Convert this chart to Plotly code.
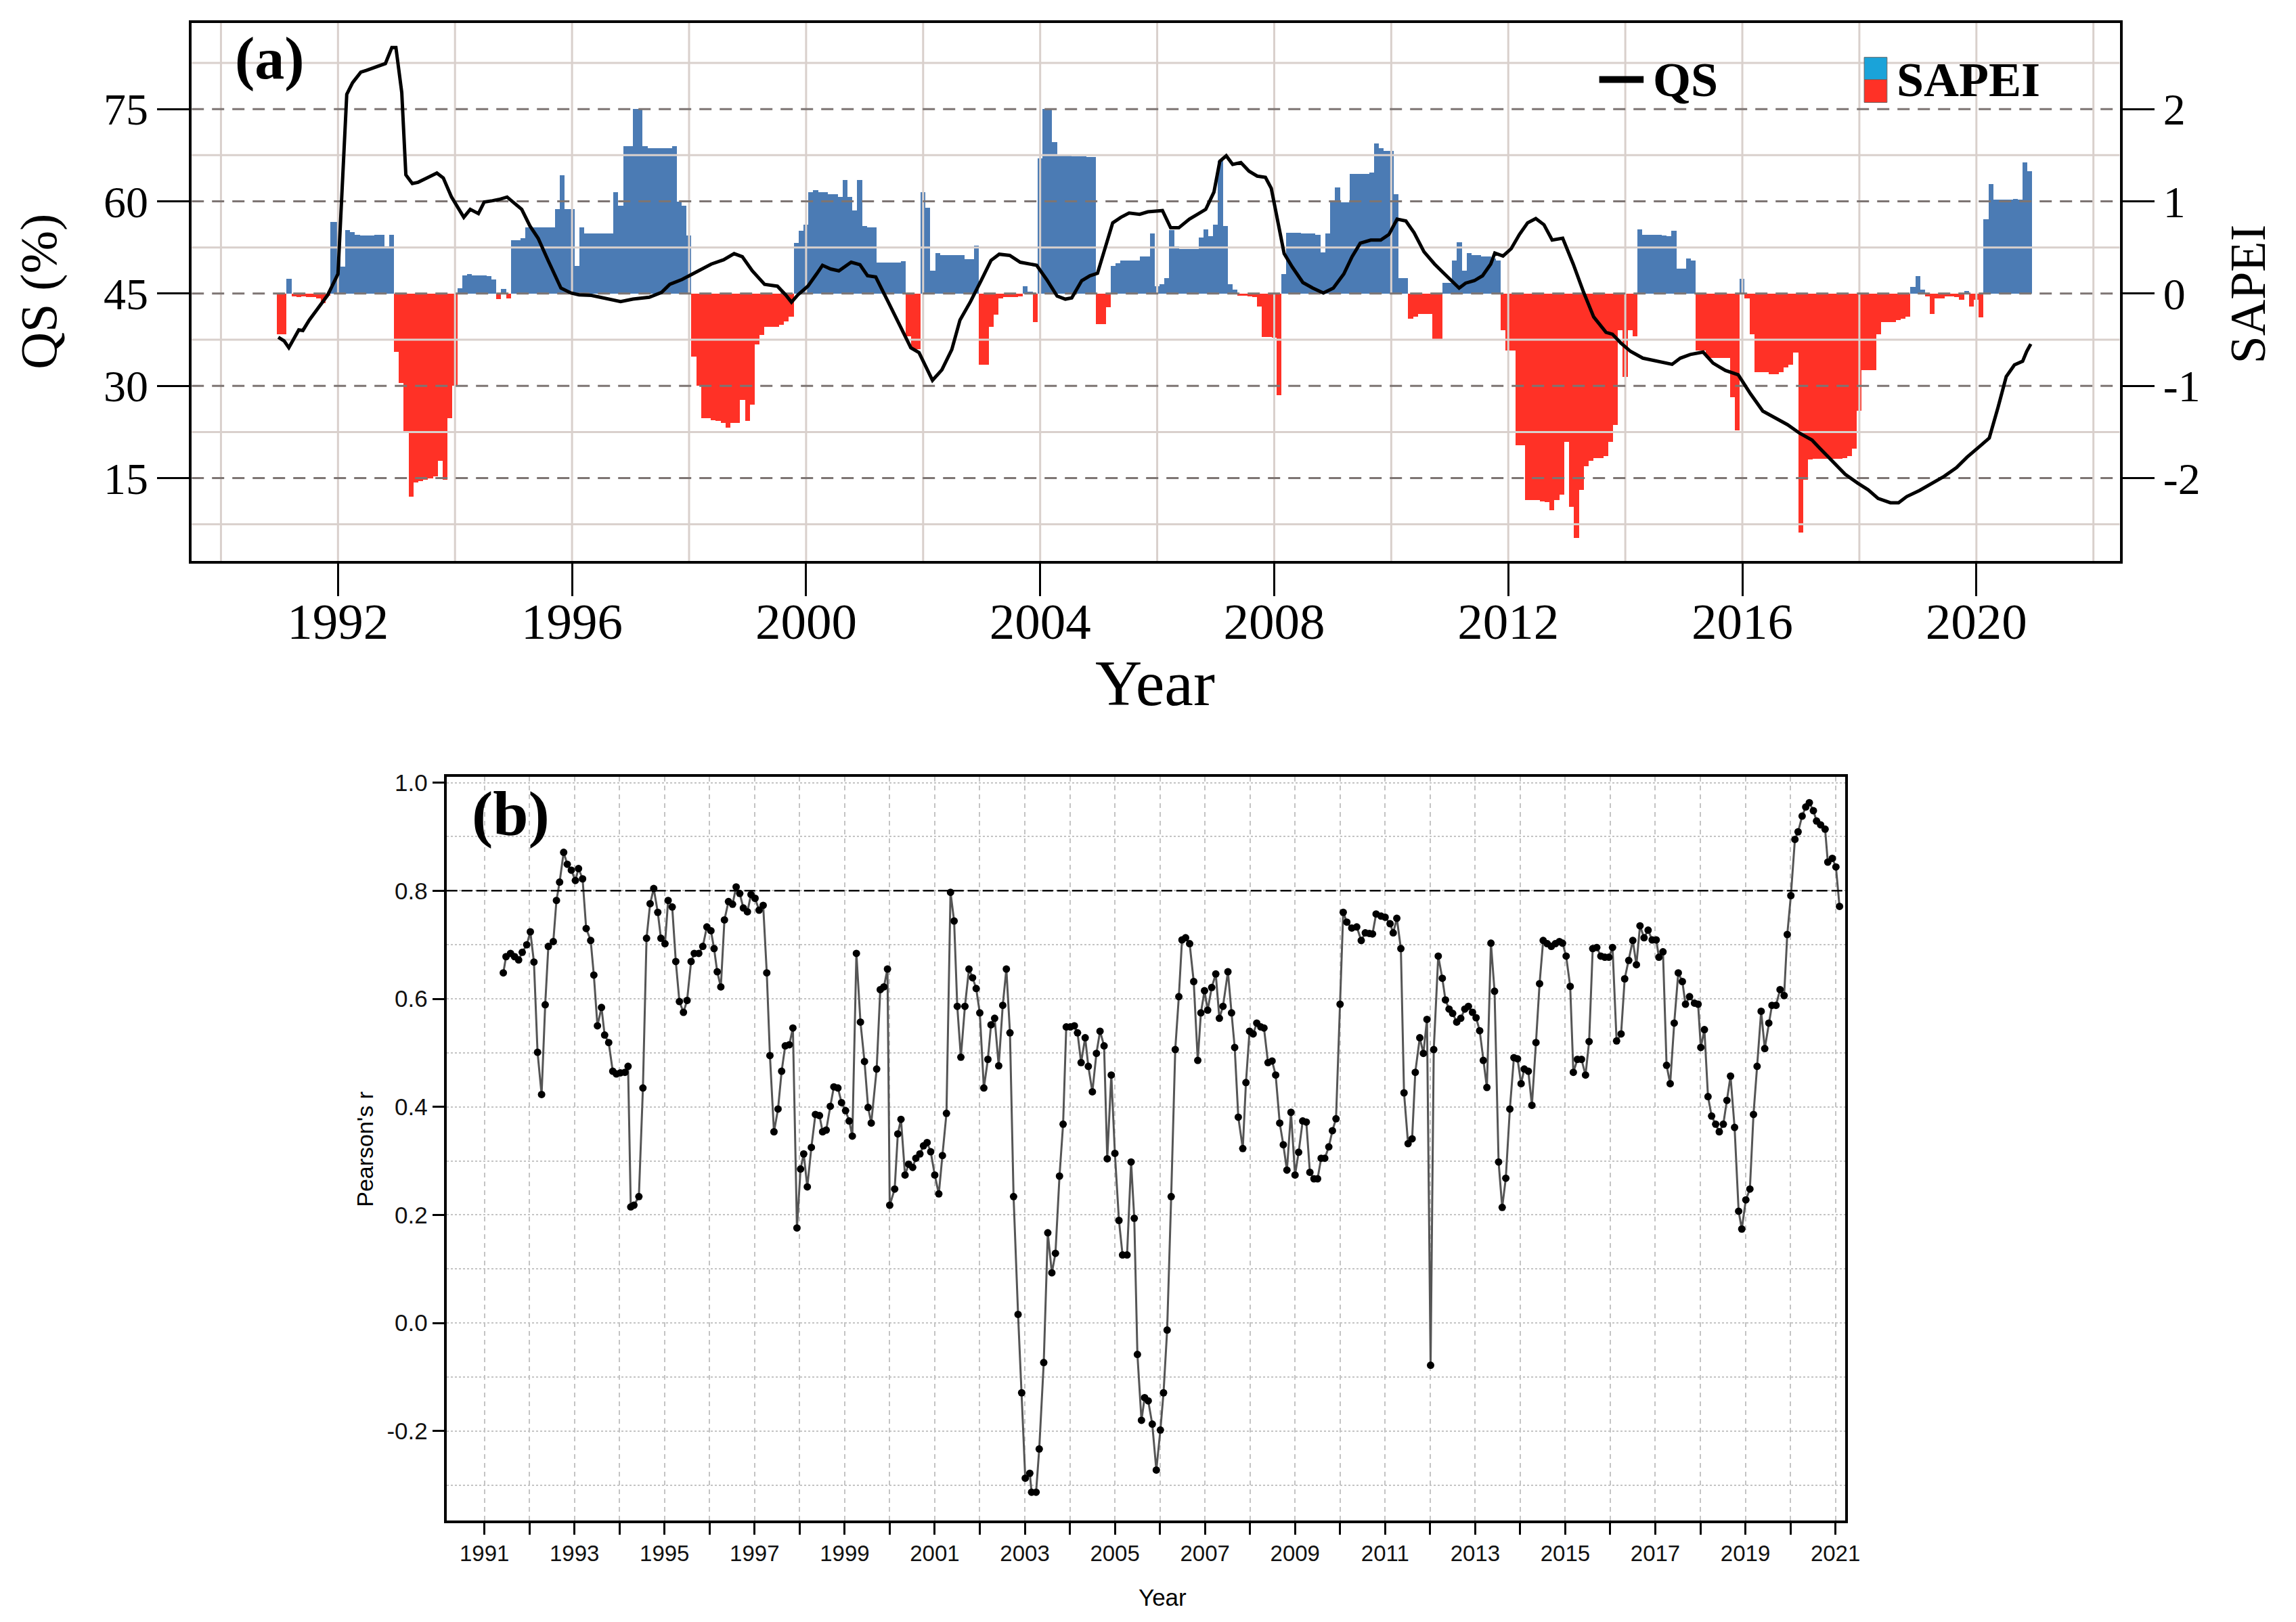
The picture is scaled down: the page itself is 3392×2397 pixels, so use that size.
import plotly.graph_objects as go

W, H = 3392, 2397
PAGE_OFFSET = 8  # default body margin of the html page

# ---------------- panel (a) data ----------------
# monthly SAPEI, Jan 1991 .. Dec 2020
sapei_start = 1991.0
sapei = [
    -0.44, -0.44, 0.16, -0.03, -0.04, -0.03, -0.04, -0.04, -0.05, -0.10, -0.02, 0.78,
    0.78, 0.29, 0.69, 0.67, 0.64, 0.63, 0.63, 0.63, 0.64, 0.64, 0.51, 0.64,
    -0.63, -0.97, -1.50, -2.20, -2.05, -2.03, -2.02, -2.00, -1.98, -1.81, -2.02, -1.35,
    -1.00, 0.06, 0.20, 0.21, 0.20, 0.20, 0.20, 0.19, 0.15, -0.06, 0.05, -0.05,
    0.58, 0.58, 0.60, 0.72, 0.72, 0.72, 0.72, 0.72, 0.72, 0.92, 1.28, 0.92,
    0.92, 0.30, 0.72, 0.65, 0.65, 0.65, 0.65, 0.65, 0.65, 1.10, 0.95, 1.60,
    1.60, 2.00, 2.00, 1.60, 1.58, 1.58, 1.58, 1.58, 1.58, 1.60, 1.00, 0.95,
    0.63, -0.68, -1.00, -1.35, -1.35, -1.37, -1.38, -1.40, -1.45, -1.40, -1.40, -1.15,
    -1.38, -1.20, -0.55, -0.45, -0.36, -0.36, -0.36, -0.34, -0.30, -0.25, 0.55, 0.68,
    0.75, 1.10, 1.12, 1.10, 1.10, 1.08, 1.08, 1.05, 1.23, 1.05, 0.90, 1.23,
    0.73, 0.72, 0.72, 0.34, 0.34, 0.34, 0.34, 0.34, 0.35, -0.46, -0.60, -0.60,
    1.10, 0.93, 0.25, 0.44, 0.42, 0.42, 0.42, 0.42, 0.42, 0.37, 0.37, 0.52,
    -0.77, -0.77, -0.36, -0.23, -0.05, -0.04, -0.04, -0.04, -0.03, 0.08, 0.02, -0.31,
    1.47, 2.00, 2.00, 1.64, 1.50, 1.50, 1.50, 1.49, 1.49, 1.49, 1.48, 1.48,
    -0.33, -0.33, -0.15, 0.30, 0.33, 0.36, 0.36, 0.36, 0.36, 0.40, 0.40, 0.65,
    0.08, 0.10, 0.17, 0.69, 0.51, 0.48, 0.48, 0.48, 0.48, 0.61, 0.70, 0.62,
    0.75, 1.44, 0.73, 0.10, 0.04, -0.02, -0.02, -0.03, -0.04, -0.14, -0.47, -0.47,
    -0.48, -1.10, 0.21, 0.66, 0.66, 0.66, 0.65, 0.65, 0.65, 0.64, 0.45, 0.65,
    1.00, 1.15, 0.99, 0.99, 1.30, 1.30, 1.30, 1.30, 1.31, 1.63, 1.58, 1.55,
    1.55, 1.08, 0.17, 0.17, -0.27, -0.25, -0.22, -0.22, -0.22, -0.49, -0.49, 0.12,
    0.12, 0.36, 0.56, 0.25, 0.44, 0.42, 0.42, 0.40, 0.40, 0.38, 0.36, -0.40,
    -0.62, -0.62, -1.64, -1.64, -2.24, -2.24, -2.24, -2.25, -2.26, -2.35, -2.24, -2.18,
    -1.61, -2.31, -2.65, -2.13, -1.87, -1.81, -1.78, -1.78, -1.76, -1.61, -1.42, -0.40,
    -0.90, -0.40, -0.46, 0.70, 0.64, 0.64, 0.64, 0.64, 0.63, 0.62, 0.68, 0.27,
    0.27, 0.38, 0.36, -0.62, -0.62, -0.70, -0.70, -0.70, -0.70, -0.70, -1.12, -1.48,
    0.16, -0.05, -0.44, -0.85, -0.85, -0.85, -0.87, -0.87, -0.85, -0.80, -0.77, -0.64,
    -2.59, -2.02, -1.80, -1.79, -1.79, -1.79, -1.79, -1.79, -1.79, -1.78, -1.76, -1.68,
    -1.27, -0.83, -0.83, -0.83, -0.44, -0.31, -0.31, -0.31, -0.29, -0.27, -0.25, 0.07,
    0.19, 0.04, -0.03, -0.22, -0.05, -0.05, -0.03, -0.03, -0.04, -0.07, 0.03, -0.14,
    -0.07, -0.26, 0.81, 1.19, 1.02, 1.02, 1.02, 1.02, 1.03, 1.02, 1.42, 1.33,
]
months = [sapei_start + i / 12 for i in range(len(sapei))]

qs_year = [
    1990.98, 1991.08, 1991.16, 1991.26, 1991.33, 1991.40, 1991.51, 1991.68, 1991.82,
    1992.00, 1992.08, 1992.15, 1992.25, 1992.39, 1992.49, 1992.60, 1992.81, 1992.92,
    1992.99, 1993.09, 1993.16, 1993.27, 1993.37, 1993.52, 1993.69, 1993.80, 1993.94,
    1994.15, 1994.26, 1994.40, 1994.50, 1994.64, 1994.75, 1994.89, 1994.99, 1995.14,
    1995.28, 1995.42, 1995.59, 1995.81, 1995.98, 1996.12, 1996.33, 1996.62, 1996.83,
    1997.04, 1997.32, 1997.53, 1997.67, 1997.88, 1998.17, 1998.38, 1998.59, 1998.77,
    1998.91, 1999.08, 1999.29, 1999.51, 1999.65, 1999.75, 1999.86, 2000.03, 2000.18,
    2000.28, 2000.42, 2000.56, 2000.77, 2000.92, 2001.05, 2001.19, 2001.40, 2001.61,
    2001.79, 2001.93, 2002.04, 2002.16, 2002.32, 2002.49, 2002.63, 2002.81, 2002.99,
    2003.16, 2003.30, 2003.48, 2003.66, 2003.80, 2003.94, 2004.11, 2004.29, 2004.43,
    2004.54, 2004.71, 2004.85, 2004.98, 2005.10, 2005.24, 2005.38, 2005.52, 2005.70,
    2005.84, 2006.09, 2006.23, 2006.37, 2006.55, 2006.69, 2006.83, 2006.97, 2007.07,
    2007.18, 2007.29, 2007.43, 2007.57, 2007.71, 2007.85, 2007.95, 2008.06, 2008.17,
    2008.31, 2008.49, 2008.66, 2008.84, 2009.01, 2009.19, 2009.33, 2009.47, 2009.65,
    2009.82, 2009.96, 2010.10, 2010.25, 2010.39, 2010.56, 2010.74, 2010.91, 2011.16,
    2011.27, 2011.42, 2011.56, 2011.70, 2011.77, 2011.91, 2012.05, 2012.19, 2012.33,
    2012.47, 2012.61, 2012.75, 2012.93, 2013.11, 2013.28, 2013.46, 2013.67, 2013.78,
    2013.92, 2014.09, 2014.30, 2014.59, 2014.80, 2014.94, 2015.11, 2015.33, 2015.50,
    2015.71, 2015.93, 2016.14, 2016.35, 2016.56, 2016.77, 2016.98, 2017.19, 2017.33,
    2017.55, 2017.76, 2017.97, 2018.15, 2018.32, 2018.53, 2018.67, 2018.81, 2019.03,
    2019.24, 2019.45, 2019.66, 2019.84, 2020.05, 2020.22, 2020.37, 2020.51, 2020.65,
    2020.79, 2020.86, 2020.93,
]
qs_value = [
    37.9, 37.3, 36.2, 37.9, 39.1, 39.0, 40.7, 42.9, 44.7,
    48.2, 65.4, 77.4, 79.3, 81.0, 81.3, 81.7, 82.4, 85.0,
    85.0, 77.7, 64.3, 62.9, 63.1, 63.8, 64.6, 63.8, 60.7,
    57.4, 58.7, 58.0, 59.9, 60.1, 60.3, 60.7, 59.9, 58.7,
    56.0, 54.0, 50.4, 45.9, 45.1, 44.8, 44.7, 44.1, 43.7,
    44.1, 44.4, 45.2, 46.5, 47.3, 48.7, 49.8, 50.5, 51.5,
    51.0, 48.7, 46.5, 46.2, 44.8, 43.6, 44.8, 46.2, 48.2,
    49.6, 49.0, 48.7, 50.1, 49.7, 47.9, 47.7, 43.7, 39.5,
    36.2, 35.4, 33.1, 30.9, 32.6, 35.9, 40.7, 43.7, 47.1,
    50.4, 51.4, 51.2, 50.1, 49.8, 49.6, 47.3, 44.6, 44.1,
    44.3, 47.1, 47.9, 48.3, 52.1, 56.5, 57.4, 58.1, 57.9,
    58.3, 58.5, 55.7, 55.7, 57.1, 57.9, 58.7, 61.5, 66.5,
    67.4, 66.0, 66.3, 64.9, 64.1, 63.9, 62.1, 57.1, 51.5,
    49.3, 46.8, 45.9, 45.1, 45.9, 48.2, 51.0, 53.2, 53.7,
    53.7, 54.6, 57.1, 56.8, 54.9, 51.8, 49.8, 48.2, 45.9,
    46.7, 47.1, 47.9, 49.8, 51.6, 51.1, 52.3, 54.6, 56.5,
    57.2, 56.2, 53.7, 54.0, 49.8, 45.4, 41.2, 38.7, 38.4,
    37.0, 35.6, 34.5, 34.0, 33.5, 34.5, 35.1, 35.5, 33.7,
    32.5, 31.8, 28.7, 25.9, 24.8, 23.7, 22.3, 21.2, 19.8,
    17.6, 15.6, 14.2, 13.1, 11.7, 11.0, 11.0, 12.0, 13.0,
    14.2, 15.3, 16.7, 18.4, 20.1, 21.5, 26.5, 31.5, 33.4,
    34.0, 35.6, 36.8,
]

# ---------------- panel (b) data ----------------
r_year = [
    1991.42, 1991.48, 1991.58, 1991.67, 1991.76, 1991.84, 1991.94, 1992.02, 1992.10, 1992.18,
    1992.27, 1992.35, 1992.42, 1992.53, 1992.60, 1992.67, 1992.76, 1992.84, 1992.93, 1993.02,
    1993.09, 1993.18, 1993.26, 1993.36, 1993.43, 1993.51, 1993.60, 1993.67, 1993.76, 1993.85,
    1993.93, 1994.02, 1994.12, 1994.19, 1994.25, 1994.32, 1994.43, 1994.52, 1994.60, 1994.68,
    1994.76, 1994.85, 1994.92, 1995.01, 1995.08, 1995.17, 1995.25, 1995.33, 1995.42, 1995.50,
    1995.59, 1995.66, 1995.76, 1995.85, 1995.94, 1996.03, 1996.10, 1996.17, 1996.25, 1996.33,
    1996.42, 1996.51, 1996.59, 1996.67, 1996.75, 1996.84, 1996.92, 1997.01, 1997.10, 1997.19,
    1997.27, 1997.34, 1997.43, 1997.52, 1997.60, 1997.68, 1997.77, 1997.85, 1997.94, 1998.02,
    1998.09, 1998.17, 1998.26, 1998.35, 1998.44, 1998.51, 1998.59, 1998.68, 1998.76, 1998.85,
    1998.93, 1999.02, 1999.10, 1999.17, 1999.26, 1999.35, 1999.44, 1999.52, 1999.59, 1999.71,
    1999.79, 1999.87, 1999.95, 2000.00, 2000.11, 2000.18, 2000.25, 2000.34, 2000.42, 2000.51,
    2000.58, 2000.67, 2000.75, 2000.83, 2000.91, 2001.00, 2001.09, 2001.17, 2001.26, 2001.35,
    2001.43, 2001.50, 2001.58, 2001.67, 2001.76, 2001.84, 2001.92, 2002.00, 2002.09, 2002.18,
    2002.25, 2002.33, 2002.42, 2002.51, 2002.59, 2002.67, 2002.75, 2002.85, 2002.93, 2003.01,
    2003.11, 2003.15, 2003.25, 2003.32, 2003.42, 2003.51, 2003.60, 2003.68, 2003.77, 2003.85,
    2003.92, 2004.01, 2004.10, 2004.17, 2004.25, 2004.34, 2004.41, 2004.50, 2004.59, 2004.67,
    2004.76, 2004.83, 2004.92, 2005.00, 2005.09, 2005.17, 2005.27, 2005.36, 2005.43, 2005.50,
    2005.59, 2005.66, 2005.74, 2005.83, 2005.92, 2006.01, 2006.08, 2006.16, 2006.25, 2006.34,
    2006.42, 2006.49, 2006.57, 2006.66, 2006.75, 2006.84, 2006.91, 2006.99, 2007.06, 2007.15,
    2007.24, 2007.32, 2007.40, 2007.51, 2007.59, 2007.66, 2007.74, 2007.84, 2007.91, 2007.99,
    2008.07, 2008.15, 2008.24, 2008.31, 2008.40, 2008.49, 2008.57, 2008.66, 2008.74, 2008.82,
    2008.91, 2009.00, 2009.08, 2009.17, 2009.25, 2009.33, 2009.42, 2009.50, 2009.58, 2009.66,
    2009.75, 2009.83, 2009.91, 2010.00, 2010.07, 2010.15, 2010.26, 2010.37, 2010.47, 2010.56,
    2010.65, 2010.72, 2010.80, 2010.91, 2011.00, 2011.11, 2011.18, 2011.26, 2011.35, 2011.42,
    2011.51, 2011.60, 2011.67, 2011.77, 2011.85, 2011.93, 2012.01, 2012.08, 2012.18, 2012.27,
    2012.34, 2012.42, 2012.50, 2012.59, 2012.68, 2012.77, 2012.85, 2012.94, 2013.02, 2013.10,
    2013.18, 2013.26, 2013.35, 2013.43, 2013.52, 2013.60, 2013.68, 2013.77, 2013.86, 2013.94,
    2014.02, 2014.09, 2014.18, 2014.26, 2014.35, 2014.43, 2014.51, 2014.60, 2014.69, 2014.78,
    2014.87, 2014.94, 2015.02, 2015.11, 2015.18, 2015.27, 2015.36, 2015.45, 2015.53, 2015.61,
    2015.70, 2015.79, 2015.88, 2015.97, 2016.05, 2016.14, 2016.24, 2016.32, 2016.41, 2016.50,
    2016.58, 2016.66, 2016.75, 2016.84, 2016.93, 2017.02, 2017.08, 2017.17, 2017.25, 2017.33,
    2017.42, 2017.51, 2017.60, 2017.67, 2017.76, 2017.87, 2017.95, 2018.01, 2018.09, 2018.17,
    2018.25, 2018.34, 2018.42, 2018.51, 2018.59, 2018.67, 2018.76, 2018.85, 2018.92, 2019.01,
    2019.10, 2019.18, 2019.26, 2019.35, 2019.43, 2019.52, 2019.59, 2019.68, 2019.77, 2019.86,
    2019.93, 2020.01, 2020.10, 2020.17, 2020.26, 2020.34, 2020.42, 2020.51, 2020.58, 2020.67,
    2020.77, 2020.83, 2020.93, 2021.01, 2021.09,
]
r_value = [
    0.648, 0.678, 0.684, 0.678, 0.672, 0.686, 0.700, 0.724, 0.668, 0.501,
    0.423, 0.589, 0.697, 0.706, 0.782, 0.816, 0.871, 0.849, 0.838, 0.819,
    0.841, 0.822, 0.730, 0.708, 0.644, 0.550, 0.584, 0.533, 0.519, 0.466,
    0.461, 0.463, 0.464, 0.475, 0.215, 0.218, 0.234, 0.435, 0.712, 0.776,
    0.804, 0.760, 0.712, 0.702, 0.782, 0.770, 0.669, 0.595, 0.575, 0.597,
    0.669, 0.684, 0.684, 0.697, 0.733, 0.726, 0.693, 0.650, 0.622, 0.746,
    0.780, 0.775, 0.807, 0.795, 0.768, 0.761, 0.793, 0.786, 0.764, 0.773,
    0.648, 0.495, 0.354, 0.396, 0.466, 0.513, 0.515, 0.546, 0.176, 0.285,
    0.313, 0.252, 0.325, 0.386, 0.384, 0.354, 0.357, 0.401, 0.437, 0.435,
    0.408, 0.393, 0.374, 0.346, 0.684, 0.557, 0.484, 0.399, 0.370, 0.470,
    0.617, 0.622, 0.655, 0.218, 0.248, 0.350, 0.377, 0.274, 0.294, 0.288,
    0.305, 0.313, 0.328, 0.334, 0.317, 0.274, 0.239, 0.310, 0.388, 0.797,
    0.744, 0.586, 0.492, 0.586, 0.655, 0.639, 0.619, 0.574, 0.435, 0.488,
    0.552, 0.564, 0.476, 0.588, 0.655, 0.537, 0.234, 0.016, -0.129, -0.287,
    -0.278, -0.313, -0.313, -0.233, -0.073, 0.167, 0.093, 0.129, 0.272, 0.368,
    0.548, 0.548, 0.550, 0.537, 0.482, 0.528, 0.475, 0.428, 0.499, 0.540,
    0.513, 0.304, 0.459, 0.314, 0.190, 0.126, 0.126, 0.298, 0.194, -0.058,
    -0.180, -0.138, -0.144, -0.187, -0.272, -0.198, -0.129, -0.013, 0.234, 0.506,
    0.604, 0.709, 0.713, 0.702, 0.632, 0.486, 0.574, 0.615, 0.579, 0.621,
    0.646, 0.564, 0.586, 0.650, 0.574, 0.510, 0.381, 0.323, 0.445, 0.540,
    0.535, 0.555, 0.548, 0.546, 0.482, 0.485, 0.459, 0.370, 0.330, 0.283,
    0.390, 0.274, 0.316, 0.374, 0.372, 0.279, 0.267, 0.267, 0.305, 0.305,
    0.326, 0.356, 0.378, 0.590, 0.760, 0.742, 0.731, 0.733, 0.708, 0.722,
    0.721, 0.720, 0.757, 0.753, 0.751, 0.739, 0.722, 0.749, 0.693, 0.426,
    0.332, 0.341, 0.464, 0.528, 0.499, 0.562, -0.078, 0.506, 0.679, 0.638,
    0.598, 0.581, 0.573, 0.557, 0.564, 0.581, 0.586, 0.575, 0.565, 0.541,
    0.486, 0.436, 0.703, 0.614, 0.298, 0.214, 0.268, 0.396, 0.491, 0.489,
    0.443, 0.470, 0.466, 0.403, 0.519, 0.628, 0.708, 0.702, 0.697, 0.702,
    0.706, 0.703, 0.679, 0.623, 0.464, 0.488, 0.488, 0.459, 0.521, 0.693,
    0.695, 0.679, 0.677, 0.677, 0.695, 0.522, 0.535, 0.637, 0.671, 0.708,
    0.663, 0.735, 0.713, 0.727, 0.709, 0.709, 0.677, 0.687, 0.477, 0.443,
    0.555, 0.648, 0.632, 0.590, 0.604, 0.592, 0.590, 0.510, 0.543, 0.419,
    0.383, 0.368, 0.354, 0.368, 0.412, 0.457, 0.362, 0.207, 0.174, 0.228,
    0.248, 0.386, 0.475, 0.577, 0.508, 0.555, 0.588, 0.588, 0.617, 0.606,
    0.719, 0.791, 0.895, 0.909, 0.938, 0.955, 0.963, 0.948, 0.929, 0.922,
    0.914, 0.853, 0.860, 0.844, 0.771,
]

# axis setup
qs_range = [1.5, 89]
qs_ticks = [15, 30, 45, 60, 75]
qs_minor = [7.5, 22.5, 37.5, 52.5, 67.5, 82.5]
sapei_ticks = [-2, -1, 0, 1, 2]
sapei_range = [(v - 45) / 15 for v in qs_range]   # SAPEI 0 sits on QS 45
xa_range = [1989.5, 2022.45]
xa_ticks = list(range(1992, 2021, 4))
xa_grid = list(range(1990, 2023, 2))

xb_range = [1990.16, 2021.22]
xb_ticks = list(range(1991, 2022))
xb_text = [str(y) if y % 2 == 1 else "" for y in xb_ticks]
rb_range = [-0.365, 1.011]
rb_ticks = [-0.2, 0.0, 0.2, 0.4, 0.6, 0.8, 1.0]
rb_text = ["-0.2", "0.0", "0.2", "0.4", "0.6", "0.8", "1.0"]
r_threshold = 0.8

BLUE = "#4b7bb4"
RED = "#ff3126"
GRID_A = "#d9d0cc"
DASH_A = "#7d7573"
GRID_B = "#c4c4c4"
SERIF = "Liberation Serif, Times New Roman, serif"
SANS = "Liberation Sans Narrow, Liberation Sans, Arial, sans-serif"


def px(x):
    return (x - PAGE_OFFSET) / W


def py(y):
    return 1 - (y - PAGE_OFFSET) / H


def hlines(vals, x0, x1):
    xs, ys = [], []
    for v in vals:
        xs += [x0, x1, None]
        ys += [v, v, None]
    return xs, ys


def vlines(vals, y0, y1):
    xs, ys = [], []
    for v in vals:
        xs += [v, v, None]
        ys += [y0, y1, None]
    return xs, ys


fig = go.Figure()

# SAPEI bars on the base (right) axis
fig.add_trace(go.Bar(
    x=months, y=sapei, width=1 / 12,
    marker=dict(color=[BLUE if v >= 0 else RED for v in sapei], line=dict(width=0)),
    xaxis="x", yaxis="y2", showlegend=False,
))

# grid of panel (a) drawn over the bars (as in the original)
gx, gy = vlines(xa_grid, qs_range[0], qs_range[1])
fig.add_trace(go.Scatter(x=gx, y=gy, mode="lines", line=dict(color=GRID_A, width=3),
                         xaxis="x", yaxis="y", showlegend=False, hoverinfo="skip"))
gx, gy = hlines(qs_minor, xa_range[0], xa_range[1])
fig.add_trace(go.Scatter(x=gx, y=gy, mode="lines", line=dict(color=GRID_A, width=3),
                         xaxis="x", yaxis="y", showlegend=False, hoverinfo="skip"))
gx, gy = hlines(qs_ticks, xa_range[0], xa_range[1])
fig.add_trace(go.Scatter(x=gx, y=gy, mode="lines",
                         line=dict(color=DASH_A, width=3, dash="18px,12px"),
                         xaxis="x", yaxis="y", showlegend=False, hoverinfo="skip"))

# QS line
fig.add_trace(go.Scatter(x=qs_year, y=qs_value, mode="lines",
                         line=dict(color="black", width=5),
                         xaxis="x", yaxis="y", showlegend=False))

# panel (b) Pearson's r
fig.add_trace(go.Scatter(x=r_year, y=r_value, mode="lines+markers",
                         line=dict(color="#555555", width=3),
                         marker=dict(color="black", size=11),
                         xaxis="x2", yaxis="y3", showlegend=False))

axis_line = dict(showline=True, linecolor="black", linewidth=4, ticks="outside",
                 tickcolor="black", tickwidth=3)

fig.update_layout(
    width=W, height=H,
    margin=dict(l=0, r=0, t=0, b=0),
    paper_bgcolor="white", plot_bgcolor="white",
    bargap=0,
    xaxis=dict(domain=[px(285), px(3152)], range=xa_range, anchor="y2",
               tickvals=xa_ticks, ticklen=48, mirror=True, showgrid=False, zeroline=False,
               ticklabelstandoff=-27,
               tickfont=dict(family=SERIF, size=75, color="black"), **axis_line),
    yaxis2=dict(domain=[py(822), py(23)], range=sapei_range, anchor="x", side="right",
                tickvals=sapei_ticks, ticktext=[str(v) for v in sapei_ticks],
                ticklen=47, showgrid=False, zeroline=False,
                tickfont=dict(family=SERIF, size=66, color="black"), **axis_line),
    yaxis=dict(range=qs_range, overlaying="y2", anchor="x", side="left",
               tickvals=qs_ticks, ticklen=47, showgrid=False, zeroline=False,
               tickfont=dict(family=SERIF, size=66, color="black"), **axis_line),
    xaxis2=dict(domain=[px(664), px(2744)], range=xb_range, anchor="y3",
                tickvals=xb_ticks, ticktext=xb_text, ticklen=17, mirror=True,
                showgrid=True, gridcolor=GRID_B, gridwidth=2, griddash="7px,6px",
                zeroline=False, tickfont=dict(family=SANS, size=33, color="#111"),
                **axis_line),
    yaxis3=dict(domain=[py(2246), py(1142)], range=rb_range, anchor="x2",
                tickvals=rb_ticks, ticktext=rb_text, ticklen=17, mirror=True,
                showgrid=True, gridcolor=GRID_B, gridwidth=2, griddash="dot",
                minor=dict(dtick=0.1, tick0=0, showgrid=True, gridcolor=GRID_B,
                           gridwidth=2, griddash="dot"),
                zeroline=False, tickfont=dict(family=SANS, size=35, color="#111"),
                **axis_line),
)

# 0.8 reference line in (b)
fig.add_shape(type="line", xref="x2 domain", yref="y3", x0=0, x1=1,
              y0=r_threshold, y1=r_threshold,
              line=dict(color="black", width=2.5, dash="16px,6px"))

# legend of (a)
fig.add_shape(type="line", xref="paper", yref="paper", x0=px(2378), x1=px(2444),
              y0=py(107), y1=py(107), line=dict(color="black", width=10))
fig.add_shape(type="rect", xref="paper", yref="paper", x0=px(2772), x1=px(2806),
              y0=py(107), y1=py(74), fillcolor="#1aa3d9", line=dict(color="#666", width=1))
fig.add_shape(type="rect", xref="paper", yref="paper", x0=px(2772), x1=px(2806),
              y0=py(141), y1=py(107), fillcolor=RED, line=dict(color="#666", width=1))


def note(text, x, y, size, family=SERIF, angle=0, xanchor="center"):
    fig.add_annotation(text=text, x=px(x), y=py(y), xref="paper", yref="paper",
                       showarrow=False, textangle=angle, xanchor=xanchor, yanchor="middle",
                       font=dict(family=family, size=size, color="black"))


note("<b>QS</b>", 2456, 107, 72, xanchor="left")
note("<b>SAPEI</b>", 2818, 107, 72, xanchor="left")
note("<b>(a)</b>", 401, 76, 88)
note("<b>(b)</b>", 759, 1196, 94)
note("QS (%)", 57, 422, 76, angle=-90)
note("SAPEI", 3343, 425, 74, angle=-90)
note("Year", 1718, 1003, 96)
note("Pearson's r", 543, 1695, 34, family=SANS, angle=-90)
note("Year", 1729, 2360, 35, family=SANS)

fig.write_html("out.html")
